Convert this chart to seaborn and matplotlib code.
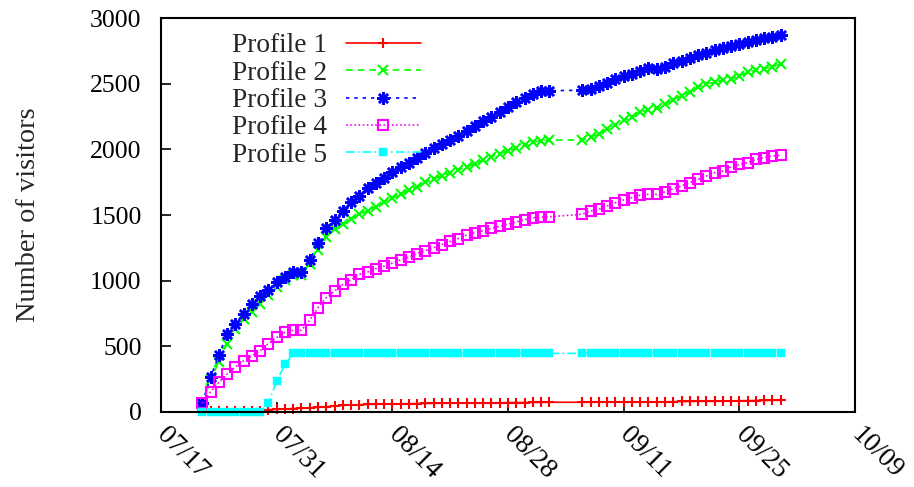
import matplotlib
matplotlib.use("Agg")
import matplotlib.pyplot as plt
import seaborn as sns
import pandas as pd

# ---- data -------------------------------------------------------------
# daily observations 07/22 .. 09/02 and 09/06 .. 09/30 (no data 09/03-09/05)
dates_part1 = pd.date_range("2008-07-22", "2008-09-02", freq="D")
dates_part2 = pd.date_range("2008-09-06", "2008-09-30", freq="D")
dates = dates_part1.append(dates_part2)

profile1 = [3, 3, 3, 3, 3, 3, 3, 3, 15, 18, 20, 24, 27, 30, 33, 38, 43, 48, 51, 53,
            55, 57, 58, 59, 60, 61, 62, 63, 64, 65, 65, 66, 66, 67, 67, 68, 68, 69, 70, 70,
            71, 71, 72,
            72, 72, 73, 73, 73, 74, 74, 74, 75, 75, 75, 76, 78, 78, 79, 79, 79, 80, 80,
            84, 84, 85, 86, 87, 88]
profile2 = [60, 240, 380, 520, 634, 710, 760, 824, 888, 951, 1002, 1040, 1045, 1129, 1230,
            1331, 1394, 1432, 1470, 1508, 1534, 1564, 1597, 1630, 1661, 1691, 1717, 1749,
            1775, 1800, 1822, 1845, 1868, 1892, 1920, 1945, 1968, 1990, 2010, 2030, 2055,
            2068, 2070,
            2073, 2094, 2119, 2157, 2183, 2221, 2246, 2284, 2302, 2318, 2348, 2378, 2411,
            2436, 2474, 2500, 2512, 2530, 2538, 2563, 2588, 2606, 2614, 2632, 2652]
profile3 = [66, 262, 431, 591, 672, 748, 824, 880, 931, 989, 1027, 1065, 1065, 1154, 1290,
            1402, 1465, 1534, 1602, 1648, 1706, 1742, 1783, 1825, 1863, 1894, 1932, 1970,
            2013, 2043, 2074, 2106, 2144, 2182, 2215, 2250, 2288, 2321, 2359, 2392, 2423,
            2442, 2447,
            2452, 2460, 2485, 2510, 2535, 2560, 2578, 2598, 2619, 2611, 2628, 2656, 2674,
            2695, 2717, 2737, 2755, 2770, 2789, 2806, 2822, 2835, 2848, 2860, 2873]
profile4 = [64, 152, 224, 287, 342, 388, 426, 464, 520, 566, 604, 621, 621, 697, 794,
            870, 920, 971, 1007, 1047, 1065, 1091, 1110, 1133, 1159, 1179, 1205, 1228,
            1250, 1275, 1298, 1320, 1348, 1365, 1380, 1398, 1415, 1430, 1447, 1465, 1478,
            1484, 1486,
            1506, 1531, 1544, 1569, 1594, 1615, 1633, 1650, 1658, 1658, 1676, 1701, 1721,
            1747, 1772, 1797, 1823, 1835, 1868, 1886, 1899, 1924, 1937, 1949, 1957]
profile5 = [0, 0, 0, 0, 0, 0, 0, 0, 64, 233, 360, 445, 445, 445, 445, 445, 445, 445, 445,
            445, 445, 445, 445, 445, 445, 445, 445, 445, 445, 445, 445, 445, 445, 445, 445,
            445, 445, 445, 445, 445, 445, 445, 445,
            445, 445, 445, 445, 445, 445, 445, 445, 445, 445, 445, 445, 445, 445, 445, 445,
            445, 445, 445, 445, 445, 445, 445, 445, 445]

series_names = ["Profile 1", "Profile 2", "Profile 3", "Profile 4", "Profile 5"]
series_values = [profile1, profile2, profile3, profile4, profile5]
tick_labels = ["07/17", "07/31", "08/14", "08/28", "09/11", "09/25", "10/09"]
y_ticks = [0, 500, 1000, 1500, 2000, 2500, 3000]

# ---- style ------------------------------------------------------------
sns.set_style("ticks")
plt.rcParams["font.family"] = ["Liberation Serif", "DejaVu Serif"]
plt.rcParams["font.size"] = 18.5

styles = [
    dict(color="#ff0000", linestyle="-", marker="+", markersize=7, markeredgewidth=1.5,
         markeredgecolor="#ff0000"),
    dict(color="#00ff00", linestyle=(0, (4, 3)), marker="x", markersize=7, markeredgewidth=1.5,
         markeredgecolor="#00ff00"),
    dict(color="#0000ff", linestyle=(0, (2, 3)), marker=(8, 2, 0), markersize=9,
         markeredgewidth=1.8, markeredgecolor="#0000ff"),
    dict(color="#ff00ff", linestyle=(0, (1, 1.5)), marker="s", markersize=6.5, markeredgewidth=1.5,
         markerfacecolor="none", markeredgecolor="#ff00ff"),
    dict(color="#00ffff", linestyle=(0, (5, 2, 1, 2)), marker="s", markersize=6.3, markeredgewidth=0.3,
         markerfacecolor="#00ffff", markeredgecolor="#00ffff"),
]

fig = plt.figure(figsize=(9.14, 4.87), dpi=100)
ax = fig.add_axes([161 / 914, 1 - 411.7 / 487, 694 / 914, 393.4 / 487])

for name, vals, st in zip(series_names, series_values, styles):
    df = pd.DataFrame({"date": dates, "value": vals})
    sns.lineplot(data=df, x="date", y="value", ax=ax, label=name, linewidth=1.2,
                 estimator=None, sort=False, clip_on=False, **st)

ax.set_xlim(pd.Timestamp("2008-07-17"), pd.Timestamp("2008-10-09"))
ax.set_ylim(0, 3000)
tick_pos = [pd.Timestamp("2008-" + t.replace("/", "-")) for t in tick_labels]
ax.set_xticks(tick_pos)
ax.set_xticklabels(tick_labels, rotation=-45, ha="left", va="center", rotation_mode="anchor",
                   fontsize=19.5)
ax.set_yticks(y_ticks)
ax.set_yticklabels([str(v) for v in y_ticks])
ax.set_xlabel("")
ax.set_ylabel("Number of visitors", fontsize=20.4)
ax.yaxis.set_label_coords(-0.173, 0.5)

for sp in ax.spines.values():
    sp.set_linewidth(1.5)
    sp.set_color("black")
ax.tick_params(axis="both", direction="in", length=7, width=1.2, colors="black")
ax.tick_params(axis="y", pad=14)
ax.tick_params(axis="x", pad=14)

leg = ax.legend(loc="upper left", bbox_to_anchor=(0.1023, 0.962), frameon=False,
                markerfirst=False, handlelength=2.74, handletextpad=0.68,
                labelspacing=0.08, borderpad=0, borderaxespad=0, fontsize=19.7)

fig.savefig("out.png", dpi=100)
